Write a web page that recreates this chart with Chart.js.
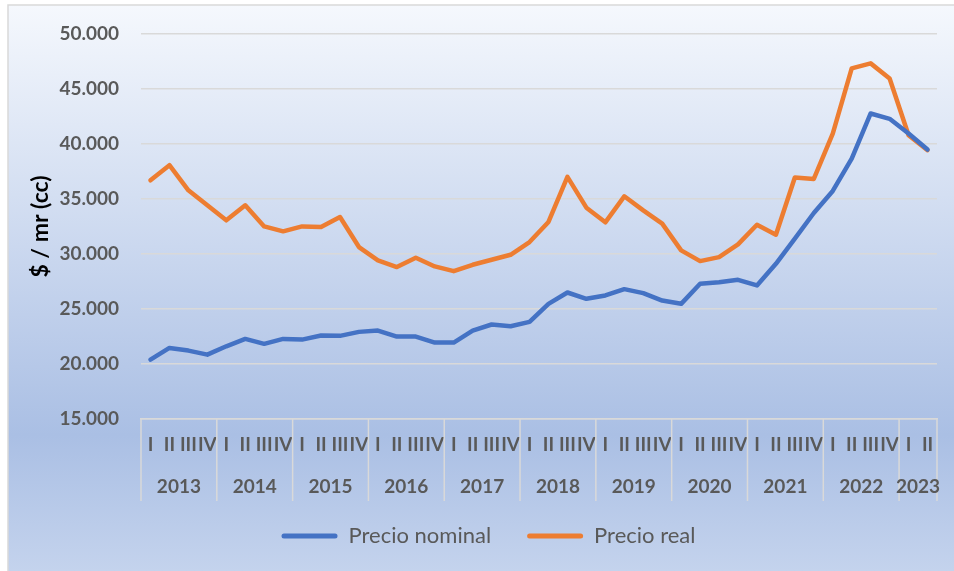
<!DOCTYPE html>
<html>
<head>
<meta charset="utf-8">
<title>Precio nominal y real</title>
<script src="https://cdn.jsdelivr.net/npm/chart.js@4.4.1/dist/chart.umd.min.js"></script>
<style>
    html, body { margin: 0; padding: 0; background: #fff; }
    .chart-box { position: relative; width: 954px; height: 571px; }
</style>
</head>
<body>
<div class="chart-box"><canvas id="precioChart"></canvas></div>
<script>
// datos trimestrales 2013 I - 2023 II
const years = ['2013', '2014', '2015', '2016', '2017', '2018', '2019', '2020', '2021', '2022', '2023'];
const quartersPerYear = [4, 4, 4, 4, 4, 4, 4, 4, 4, 4, 2];
const quarterNames = ['I', 'II', 'III', 'IV'];

const precioNominal = [
    20400, 21460, 21220, 20850,
    21610, 22280, 21830, 22280,
    22220, 22590, 22560, 22920,
    23040, 22490, 22490, 21950,
    21950, 23040, 23590, 23435,
    23830, 25470, 26500, 25925,
    26230, 26805, 26440, 25770,
    25470, 27290, 27440, 27655,
    27140, 29110, 31390, 33730,
    35730, 38680, 42775, 42290,
    40950, 39500
];
const precioReal = [
    36700, 38070, 35790, 34425,
    33060, 34425, 32510, 32060,
    32510, 32450, 33360, 30630,
    29420, 28810, 29660, 28870,
    28440, 29020, 29480, 29930,
    31090, 32910, 37010, 34210,
    32880, 35245, 33970, 32760,
    30330, 29355, 29720, 30870,
    32660, 31750, 36950, 36820,
    40950, 46870, 47330, 45960,
    40800, 39435
];

const yTicks = [15000, 20000, 25000, 30000, 35000, 40000, 45000, 50000];

const quarterLabels = [];
quartersPerYear.forEach(n => {
    for (let q = 0; q < n; q++) quarterLabels.push(quarterNames[q]);
});

const FONT = 'Lato';
const GRID = '#d9d9d9';
const TEXT = '#595959';

function formatMiles(v) {
    return String(v).replace(/\B(?=(\d{3})+(?!\d))/g, '.');
}

// fondo degradado + marco
const backgroundPlugin = {
    id: 'fondo',
    beforeDraw(chart) {
        const { ctx, width, height } = chart;
        ctx.save();
        ctx.fillStyle = '#ffffff';
        ctx.fillRect(0, 0, width, height);
        const g = ctx.createLinearGradient(0, 5, 0, height);
        g.addColorStop(0, '#f5f8fd');
        g.addColorStop(0.76, '#aabfe4');
        g.addColorStop(1, '#c4d3ed');
        ctx.fillStyle = g;
        ctx.fillRect(8, 5, width - 8, height - 5);
        ctx.strokeStyle = GRID;
        ctx.lineWidth = 1.5;
        ctx.beginPath();
        ctx.moveTo(8, height);
        ctx.lineTo(8, 5);
        ctx.lineTo(width, 5);
        ctx.stroke();
        ctx.restore();
    }
};

// etiquetas de año y separadores bajo el eje x
const yearAxisPlugin = {
    id: 'anios',
    afterDraw(chart) {
        const { ctx } = chart;
        const x = chart.scales.x;
        const cell = x.getPixelForValue(1) - x.getPixelForValue(0);
        const top = chart.chartArea.bottom;
        const bottom = top + 82;
        ctx.save();
        ctx.strokeStyle = GRID;
        ctx.lineWidth = 1.5;
        ctx.fillStyle = TEXT;
        ctx.font = `bold 19px ${FONT}`;
        ctx.textAlign = 'center';
        ctx.textBaseline = 'middle';
        let start = 0;
        years.forEach((y, i) => {
            const n = quartersPerYear[i];
            const left = x.getPixelForValue(start) - cell / 2;
            const right = x.getPixelForValue(start + n - 1) + cell / 2;
            ctx.beginPath();
            ctx.moveTo(left, top);
            ctx.lineTo(left, bottom);
            if (i === years.length - 1) {
                ctx.moveTo(right, top);
                ctx.lineTo(right, bottom);
            }
            ctx.stroke();
            ctx.fillText(y, (left + right) / 2, top + 68);
            start += n;
        });
        ctx.restore();
    }
};

// la leyenda va un poco a la derecha, como en el original
const legendShiftPlugin = {
    id: 'moverLeyenda',
    afterLayout(chart) {
        if (chart.legend) {
            chart.legend.left += 16;
            chart.legend.right += 16;
        }
    }
};

new Chart(document.getElementById('precioChart'), {
    type: 'line',
    data: {
        labels: quarterLabels,
        datasets: [
            {
                label: 'Precio nominal',
                data: precioNominal,
                borderColor: '#4472c4',
                backgroundColor: '#4472c4',
                borderWidth: 4.5,
                borderCapStyle: 'round',
                borderJoinStyle: 'round',
                pointRadius: 0,
                tension: 0
            },
            {
                label: 'Precio real',
                data: precioReal,
                borderColor: '#ed7d31',
                backgroundColor: '#ed7d31',
                borderWidth: 4.5,
                borderCapStyle: 'round',
                borderJoinStyle: 'round',
                pointRadius: 0,
                tension: 0
            }
        ]
    },
    options: {
        responsive: true,
        maintainAspectRatio: false,
        animation: false,
        layout: { padding: { left: 8, right: 17, top: 34, bottom: 14 } },
        scales: {
            x: {
                type: 'category',
                offset: true,
                grid: { display: false, drawTicks: false },
                border: { display: true, color: GRID, width: 1.5 },
                ticks: {
                    autoSkip: false,
                    maxRotation: 0,
                    minRotation: 0,
                    padding: 14,
                    color: TEXT,
                    font: { family: FONT, size: 19, weight: 'bold' }
                },
                afterFit(scale) { scale.height = 70; }
            },
            y: {
                min: 15000,
                max: 50000,
                afterBuildTicks(scale) { scale.ticks = yTicks.map(v => ({ value: v })); },
                grid: { color: GRID, lineWidth: 1.5, drawTicks: false },
                border: { display: false },
                ticks: {
                    padding: 22,
                    color: TEXT,
                    font: { family: FONT, size: 19, weight: 'bold' },
                    callback: v => formatMiles(v)
                },
                title: {
                    display: true,
                    text: '$ / mr (cc)',
                    color: '#000000',
                    padding: { top: 19, bottom: 0 },
                    font: { family: FONT, size: 23, weight: 'bold' }
                },
                afterFit(scale) { scale.width = 133; }
            }
        },
        plugins: {
            legend: {
                position: 'bottom',
                labels: {
                    boxWidth: 56,
                    boxHeight: 5,
                    padding: 36,
                    useBorderRadius: true,
                    borderRadius: 2.5,
                    color: TEXT,
                    font: { family: FONT, size: 22 },
                    generateLabels(chart) {
                        return Chart.defaults.plugins.legend.labels.generateLabels(chart)
                            .map(item => ({ ...item, lineWidth: 0 }));
                    }
                }
            },
            tooltip: { enabled: false }
        }
    },
    plugins: [backgroundPlugin, yearAxisPlugin, legendShiftPlugin]
});
</script>
</body>
</html>
